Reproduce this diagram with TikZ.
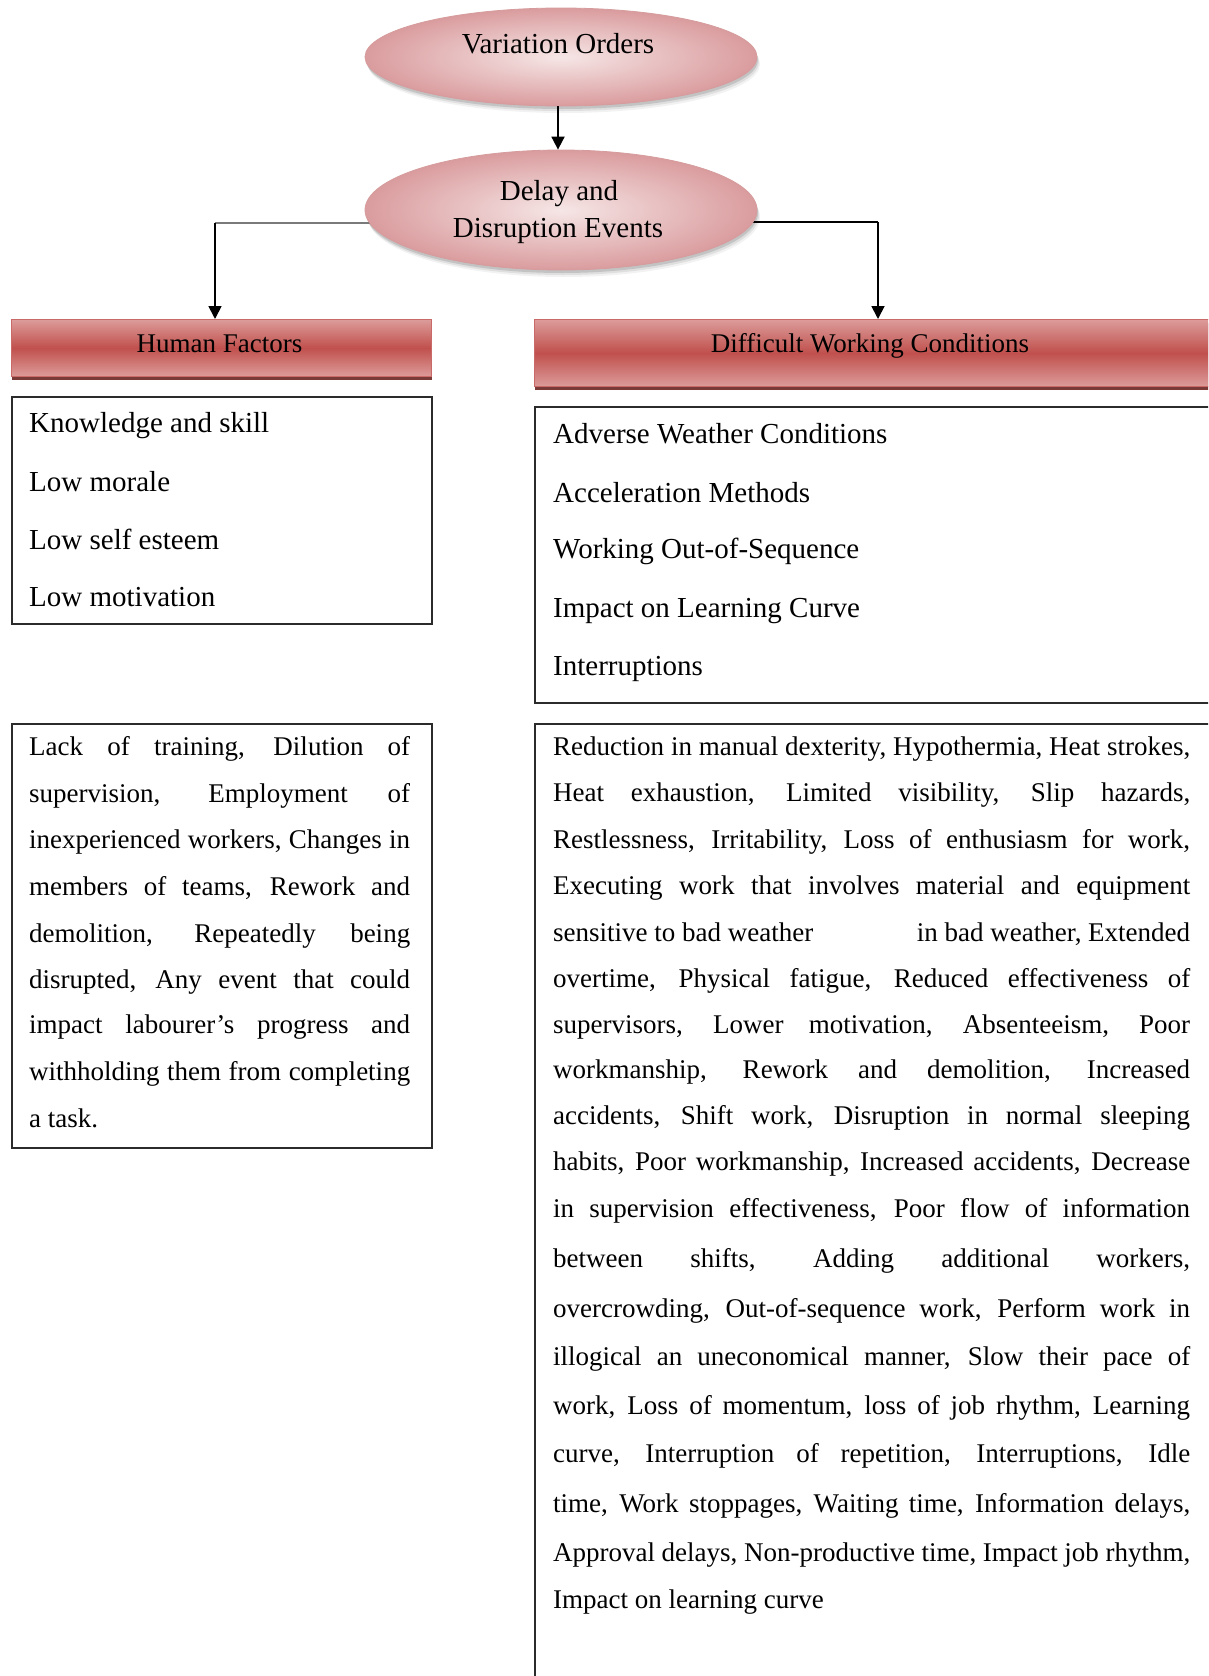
\documentclass[tikz,border=0pt]{standalone}
\usepackage{fontspec}
\setmainfont{Liberation Serif}
\usetikzlibrary{shapes.geometric,arrows.meta,shadows}
\pgfdeclarelayer{back}
\pgfsetlayers{back,main}

\definecolor{rosemid}{HTML}{C0504D}
\definecolor{roselt}{HTML}{DC9C9A}
\definecolor{roseedge}{HTML}{D69C9D}
\definecolor{pinkin}{HTML}{F6E6E6}
\definecolor{pinkout}{HTML}{DA9C9E}
\definecolor{shadowred}{HTML}{73302E}
\definecolor{frameline}{HTML}{2B2B2B}
\definecolor{connector}{HTML}{7A7A7A}

\newcommand{\jline}[2]{\makebox[#1][s]{#2}}
\newcommand{\listfont}{\fontsize{29}{34}\selectfont}
\newcommand{\bodyfont}{\fontsize{27}{32}\selectfont}
\newcommand{\ovalfont}{\fontsize{29}{34}\selectfont}
\newcommand{\headfont}{\fontsize{27}{32}\selectfont}

\begin{document}
\begin{tikzpicture}[x=1pt,y=-1pt,
  oval/.style={ellipse, minimum width=392pt, inner sep=0pt,
    shading=radial, inner color=pinkin, outer color=pinkout,
    draw=roseedge, line width=0.8pt,
    drop shadow={shadow xshift=3pt, shadow yshift=-7pt, opacity=0.05, fill=black},
    drop shadow={shadow xshift=2pt, shadow yshift=-5pt, opacity=0.08, fill=black},
    drop shadow={shadow xshift=1pt, shadow yshift=-3pt, opacity=0.12, fill=black}},
  headbar/.style={rectangle, anchor=north west, inner sep=0pt,
    top color=roselt, bottom color=roselt, middle color=rosemid,
    draw=rosemid!85!white, line width=0.9pt,
    drop shadow={shadow xshift=1pt, shadow yshift=-4pt, opacity=0.95, fill=shadowred}},
  framebox/.style={rectangle, anchor=north west, inner sep=0pt,
    draw=frameline, line width=1.5pt},
  ovaltext/.style={anchor=base, inner sep=0pt, font=\ovalfont},
  headtext/.style={anchor=base, inner sep=0pt, font=\headfont},
  listtext/.style={anchor=base west, inner sep=0pt, font=\listfont},
  bodytext/.style={anchor=base west, inner sep=0pt, font=\bodyfont},
  link/.style={draw=black, line width=1.8pt},
  greylink/.style={draw=connector, line width=2.2pt},
  tip/.style={-{Triangle[width=13pt,length=13pt]}}
]
\useasboundingbox (0,0) rectangle (1208,1676);
\begin{pgfonlayer}{back}
  \fill[white] (0,0) rectangle (1208,1676);
\end{pgfonlayer}
\clip (0,0) rectangle (1208,1676);

% top ellipses
\node[oval, minimum height=98pt] (vo) at (561,57) {};
\node[ovaltext] (vo-t) at (558,53) {Variation Orders};
\node[oval, minimum height=120pt] (dd) at (561,210) {};
\node[ovaltext] (dd-t1) at (559,200) {Delay and};
\node[ovaltext] (dd-t2) at (558,237) {Disruption Events};

% category headers
\node[headbar, minimum width=420pt, minimum height=57pt] (hf) at (11,319) {};
\node[headtext] (hf-t) at (219.5,352) {Human Factors};
\node[headbar, minimum width=720pt, minimum height=67pt] (dwc) at (534,319) {};
\node[headtext] (dwc-t) at (870,352) {Difficult Working Conditions};

% connectors
\coordinate (lc) at (215,223);
\coordinate (rc) at (878,222);
\begin{pgfonlayer}{back}
  \draw[greylink] (dd.center |- lc) -- (lc);
  \draw[link] (dd.center |- rc) -- (rc);
\end{pgfonlayer}
\draw[link, tip] (lc) -- (lc |- hf.north);
\draw[link, tip] (rc) -- (rc |- dwc.north);
\draw[link, tip] (vo.south -| vo-t) -- (dd.north -| vo-t);

% factor lists
\node[framebox, minimum width=420pt, minimum height=227pt] (hfl) at (11,396) {};
\node[listtext] (hf1) at (29,432) {Knowledge and skill};
\node[listtext] (hf2) at (29,491) {Low morale};
\node[listtext] (hf3) at (29,549) {Low self esteem};
\node[listtext] (hf4) at (29,606) {Low motivation};

\node[framebox, minimum width=720pt, minimum height=296pt] (dwl) at (534,406) {};
\node[listtext] (dw1) at (553,443) {Adverse Weather Conditions};
\node[listtext] (dw2) at (553,502) {Acceleration Methods};
\node[listtext] (dw3) at (553,558) {Working Out-of-Sequence};
\node[listtext] (dw4) at (553,617) {Impact on Learning Curve};
\node[listtext] (dw5) at (553,675) {Interruptions};

% effect descriptions
\node[framebox, minimum width=420pt, minimum height=424pt] (hfd) at (11,723) {};
\node[bodytext] (hd1) at (29,755) {\jline{381pt}{Lack of training, Dilution of}};
\node[bodytext] (hd2) at (29,802) {\jline{381pt}{supervision, Employment of}};
\node[bodytext] (hd3) at (29,848) {\jline{381pt}{inexperienced workers, Changes in}};
\node[bodytext] (hd4) at (29,895) {\jline{381pt}{members of teams, Rework and}};
\node[bodytext] (hd5) at (29,942) {\jline{381pt}{demolition, Repeatedly being}};
\node[bodytext] (hd6) at (29,988) {\jline{381pt}{disrupted, Any event that could}};
\node[bodytext] (hd7) at (29,1033) {\jline{381pt}{impact labourer’s progress and}};
\node[bodytext] (hd8) at (29,1080) {\jline{381pt}{withholding them from completing}};
\node[bodytext] (hd9) at (29,1127) {a task.};

\node[framebox, minimum width=720pt, minimum height=1000pt] (dwd) at (534,723) {};
\node[bodytext] (dd1) at (553,755) {\jline{637pt}{Reduction in manual dexterity, Hypothermia, Heat strokes,}};
\node[bodytext] (dd2) at (553,801) {\jline{637pt}{Heat exhaustion, Limited visibility, Slip hazards,}};
\node[bodytext] (dd3) at (553,848) {\jline{637pt}{Restlessness, Irritability, Loss of enthusiasm for work,}};
\node[bodytext] (dd4) at (553,894) {\jline{637pt}{Executing work that involves material and equipment}};
\node[bodytext] (dd5) at (553,941) {\jline{637pt}{sensitive to bad weather\hfill in bad weather, Extended}};
\node[bodytext] (dd6) at (553,987) {\jline{637pt}{overtime, Physical fatigue, Reduced effectiveness of}};
\node[bodytext] (dd7) at (553,1033) {\jline{637pt}{supervisors, Lower motivation, Absenteeism, Poor}};
\node[bodytext] (dd8) at (553,1078) {\jline{637pt}{workmanship, Rework and demolition, Increased}};
\node[bodytext] (dd9) at (553,1124) {\jline{637pt}{accidents, Shift work, Disruption in normal sleeping}};
\node[bodytext] (dd10) at (553,1170) {\jline{637pt}{habits, Poor workmanship, Increased accidents, Decrease}};
\node[bodytext] (dd11) at (553,1217) {\jline{637pt}{in supervision effectiveness, Poor flow of information}};
\node[bodytext] (dd12) at (553,1267) {\jline{637pt}{between shifts, Adding additional workers,}};
\node[bodytext] (dd13) at (553,1317) {\jline{637pt}{overcrowding, Out-of-sequence work, Perform work in}};
\node[bodytext] (dd14) at (553,1365) {\jline{637pt}{illogical an uneconomical manner, Slow their pace of}};
\node[bodytext] (dd15) at (553,1414) {\jline{637pt}{work, Loss of momentum, loss of job rhythm, Learning}};
\node[bodytext] (dd16) at (553,1462) {\jline{637pt}{curve, Interruption of repetition, Interruptions, Idle}};
\node[bodytext] (dd17) at (553,1512) {\jline{637pt}{time, Work stoppages, Waiting time, Information delays,}};
\node[bodytext] (dd18) at (553,1561) {\jline{637pt}{Approval delays, Non-productive time, Impact job rhythm,}};
\node[bodytext] (dd19) at (553,1608) {Impact on learning curve};
\end{tikzpicture}
\end{document}
